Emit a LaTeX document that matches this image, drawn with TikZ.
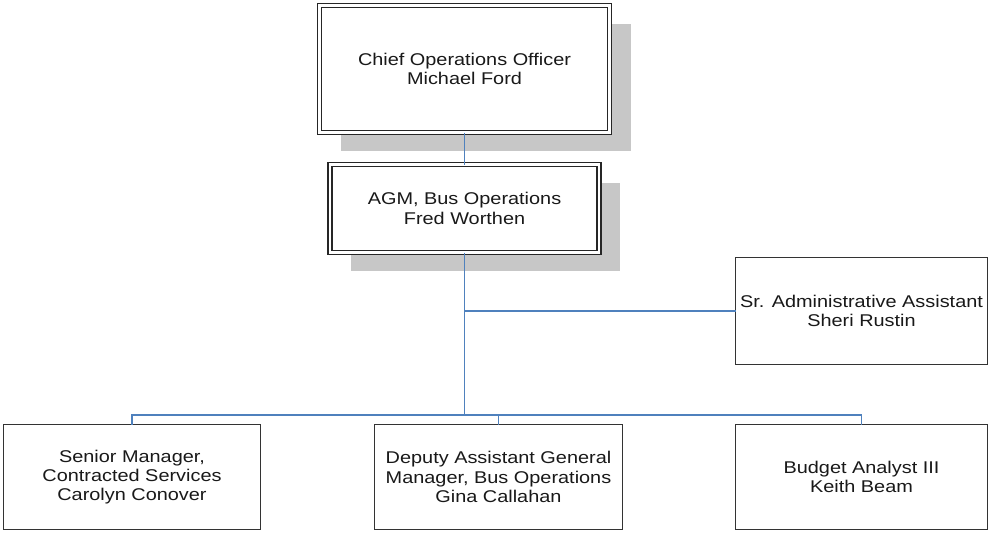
\documentclass[tikz,border=0pt]{standalone}
\usepackage{fontspec}
\setmainfont[FakeStretch=1.17]{Liberation Sans}
\usetikzlibrary{positioning,shadows}
\definecolor{linkblue}{RGB}{79,129,189}

\begin{document}
\begin{tikzpicture}[x=1pt,y=-1pt,
    every node/.style={font=\fontsize{17}{19.3}\selectfont, text=black!90, align=center, inner sep=0pt, outer sep=0pt},
    chiefnode/.style={rectangle, draw=black!85, fill=white, double=white, double distance=2.4pt, line width=1.5pt,
                      drop shadow={shadow xshift=21pt, shadow yshift=-18pt, fill=black!22, opacity=1}},
    staffnode/.style={rectangle, draw=black!80, fill=white, line width=1.7pt, minimum height=105pt},
    orgline/.style={draw=linkblue, line width=1.6pt}]
  \useasboundingbox (0,0) rectangle (990,533);

  \node[chiefnode, minimum width=290pt, minimum height=127pt] (coo) at (464.5,69) {Chief Operations Officer\\Michael Ford};
  \node[chiefnode, minimum width=269pt, minimum height=88pt, below=32pt of coo] (agm) {AGM, Bus Operations\\Fred Worthen};
  \node[staffnode, minimum width=252pt, minimum height=107pt] (assist) at (861.5,311) {Sr. Administrative Assistant\\Sheri Rustin};
  \node[staffnode, minimum width=248pt] (deputy) at (498.5,477) {Deputy Assistant General\\Manager, Bus Operations\\Gina Callahan};
  \node[staffnode, minimum width=257pt] (senior) at (132,477) {Senior Manager,\\Contracted Services\\Carolyn Conover};
  \node[staffnode, minimum width=252pt, below=60pt of assist] (budget) {Budget Analyst III\\Keith Beam};
  \coordinate (bus) at (agm.south |- 0,415);

  \path[orgline] (coo) edge (agm)
                 (agm) edge (bus)
                 (agm.south |- assist.west) edge (assist.west);
  \draw[orgline] (bus) -| (senior.north);
  \draw[orgline] (bus) -| (deputy.north);
  \draw[orgline] (bus) -| (budget.north);
\end{tikzpicture}
\end{document}
